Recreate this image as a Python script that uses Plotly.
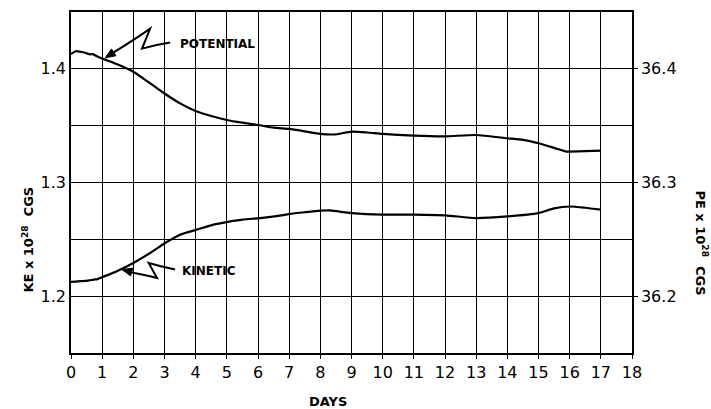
import plotly.graph_objects as go

# ---- data ----
pe_days = [0, 0.15, 0.3, 0.45, 0.6, 0.7, 0.85, 1.0, 1.5, 2.0, 2.5, 3.0, 3.5, 4.0, 4.5, 5.0, 5.5,
           6.0, 6.5, 7.0, 7.5, 8.0, 8.5, 9.0, 9.5, 10.0, 11.0, 12.0, 13.0, 14.0, 14.5, 15.0, 15.5,
           15.9, 16.0, 16.5, 17.0]
pe_vals = [36.413, 36.4155, 36.415, 36.4142, 36.4128, 36.4130, 36.4108, 36.409, 36.4038, 36.3974,
           36.388, 36.3783, 36.3696, 36.3629, 36.3585, 36.355, 36.3526, 36.3506, 36.3482, 36.3471,
           36.345, 36.3427, 36.3424, 36.3447, 36.3440, 36.3427, 36.3412, 36.3406, 36.3418, 36.3389,
           36.3375, 36.3345, 36.3305, 36.3272, 36.3272, 36.3276, 36.3281]

ke_days = [0, 0.15, 0.3, 0.45, 0.6, 0.73, 0.85, 1.0, 1.47, 2.0, 2.54, 3.02, 3.5, 4.04, 4.57, 5.0,
           5.5, 6.07, 6.7, 7.0, 7.5, 8.0, 8.3, 9.0, 10.0, 11.0, 12.0, 13.0, 14.0, 15.0, 15.5, 16.0,
           16.5, 17.0]
ke_vals = [1.2125, 1.2128, 1.2132, 1.2134, 1.2140, 1.2146, 1.2150, 1.2167, 1.2219, 1.2292, 1.2380,
           1.2468, 1.2541, 1.2585, 1.2629, 1.2652, 1.2673, 1.2687, 1.2708, 1.2722, 1.2738, 1.2752,
           1.2754, 1.2731, 1.2717, 1.2717, 1.2711, 1.2687, 1.2702, 1.2731, 1.2772, 1.2789, 1.2778,
           1.2761]

x_ticks = list(range(0, 19))
x_ticktext = [str(v) for v in x_ticks]
ke_tickvals = [1.2, 1.3, 1.4]
ke_ticktext = ["1.2", "1.3", "1.4"]
ke_minor_grid = [1.15, 1.25, 1.35, 1.45]
pe_tickvals = [36.2, 36.3, 36.4]
pe_ticktext = ["36.2", "36.3", "36.4"]

FONT = "DejaVu Sans"
BLACK = "black"

fig = go.Figure()
fig.add_trace(go.Scatter(x=ke_days, y=ke_vals, mode="lines", yaxis="y",
                         line=dict(color=BLACK, width=2.2, shape="spline", smoothing=0.6),
                         showlegend=False))
fig.add_trace(go.Scatter(x=pe_days, y=pe_vals, mode="lines", yaxis="y2",
                         line=dict(color=BLACK, width=2.2, shape="spline", smoothing=0.6),
                         showlegend=False))

# zigzag pointers (data coords on KE axis)
fig.add_shape(type="path", xref="x", yref="y",
              path="M 1.25,1.4125 Q 2.0,1.425 2.54,1.4354 L 2.28,1.4178 Q 2.7,1.421 3.18,1.4231",
              line=dict(color=BLACK, width=2))
fig.add_shape(type="path", xref="x", yref="y",
              path="M 1.85,1.2215 Q 2.4,1.2185 2.76,1.2160 L 2.49,1.2292 Q 2.9,1.226 3.34,1.2234",
              line=dict(color=BLACK, width=2))
# arrowheads
fig.add_shape(type="path", xref="x", yref="y",
              path="M 1.101,1.40965 L 1.440,1.4115 L 1.299,1.4175 Z",
              line=dict(color=BLACK, width=1), fillcolor=BLACK)
fig.add_shape(type="path", xref="x", yref="y",
              path="M 1.636,1.2234 L 1.915,1.2178 L 1.979,1.2246 Z",
              line=dict(color=BLACK, width=1), fillcolor=BLACK)

fig.add_annotation(x=3.44, y=1.4222, xref="x", yref="y", text="POTENTIAL", showarrow=False,
                   xanchor="left", yanchor="middle",
                   font=dict(family=FONT, size=12, color=BLACK, weight="bold"))
fig.add_annotation(x=3.5, y=1.2225, xref="x", yref="y", text="KINETIC", showarrow=False,
                   xanchor="left", yanchor="middle",
                   font=dict(family=FONT, size=12, color=BLACK, weight="bold"))

# axis titles
fig.add_annotation(x=-0.077, y=0.332, xref="paper", yref="paper",
                   text="KE x 10<sup>28</sup>  CGS", textangle=-90, showarrow=False,
                   xanchor="center", yanchor="middle",
                   font=dict(family=FONT, size=13, color=BLACK, weight="bold"))
fig.add_annotation(x=1.125, y=0.324, xref="paper", yref="paper",
                   text="PE x 10<sup>28</sup>  CGS", textangle=90, showarrow=False,
                   xanchor="center", yanchor="middle",
                   font=dict(family=FONT, size=13, color=BLACK, weight="bold"))
fig.add_annotation(x=0.458, y=-0.143, xref="paper", yref="paper", text="DAYS",
                   showarrow=False, xanchor="center", yanchor="middle",
                   font=dict(family=FONT, size=13, color=BLACK, weight="bold"))

fig.update_layout(
    width=711, height=409,
    margin=dict(l=71, r=79, t=10, b=56),
    paper_bgcolor="white", plot_bgcolor="white",
    xaxis=dict(range=[0, 18], tickvals=x_ticks, ticktext=x_ticktext,
               showgrid=True, gridcolor=BLACK, gridwidth=1.3,
               showline=True, linecolor=BLACK, linewidth=1.5, mirror=True,
               ticks="outside", ticklen=4, tickcolor=BLACK,
               tickfont=dict(family=FONT, size=16, color=BLACK), zeroline=False),
    yaxis=dict(range=[1.15, 1.45], tickvals=ke_tickvals, ticktext=ke_ticktext,
               showgrid=True, gridcolor=BLACK, gridwidth=1.3,
               minor=dict(tickvals=ke_minor_grid, showgrid=True, gridcolor=BLACK,
                          gridwidth=1.1, ticks=""),
               showline=True, linecolor=BLACK, linewidth=1.5,
               ticks="", tickfont=dict(family=FONT, size=16, color=BLACK), zeroline=False),
    yaxis2=dict(range=[36.15, 36.45], tickvals=pe_tickvals, ticktext=pe_ticktext,
                overlaying="y", side="right", showgrid=False,
                showline=True, linecolor=BLACK, linewidth=1.5,
                ticks="outside", ticklen=4, tickcolor=BLACK,
                tickfont=dict(family=FONT, size=16, color=BLACK), zeroline=False),
)

fig.write_html("out.html")
